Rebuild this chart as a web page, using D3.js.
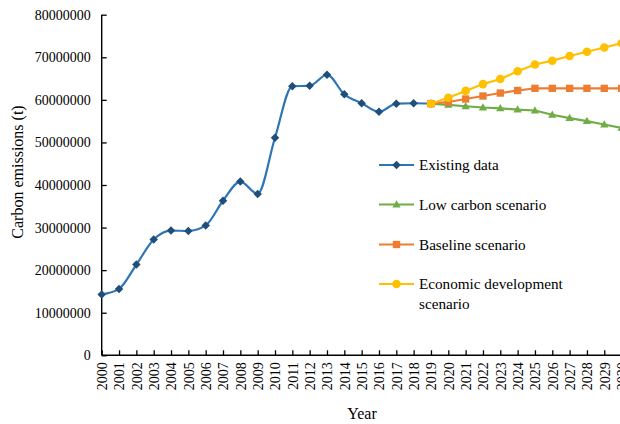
<!DOCTYPE html>
<html>
<head>
<meta charset="utf-8">
<script src="https://cdn.jsdelivr.net/npm/d3@7"></script>
<style>
  html, body { margin: 0; padding: 0; background: #fff; }
  svg { display: block; font-family: "Liberation Serif", "Times New Roman", serif; }
</style>
</head>
<body>
<svg id="chart" width="620" height="424"></svg>
<script>
// Carbon emissions: observed series 2000–2019 and three scenarios to 2030
const existingYears = d3.range(2000, 2020);
const existingValues = [
  14300000, 15600000, 21300000, 27200000, 29300000, 29200000, 30500000,
  36300000, 40800000, 37900000, 51100000, 63200000, 63300000, 65900000,
  61300000, 59200000, 57200000, 59100000, 59200000, 59100000
];

const scenarioYears = d3.range(2019, 2031);
const lowCarbonValues = [
  59100000, 58800000, 58500000, 58200000, 58000000, 57700000,
  57500000, 56500000, 55700000, 55000000, 54200000, 53400000
];
const baselineValues = [
  59100000, 59500000, 60200000, 60900000, 61600000, 62200000,
  62700000, 62700000, 62700000, 62700000, 62700000, 62700000
];
const economicValues = [
  59100000, 60500000, 62100000, 63700000, 64900000, 66700000,
  68300000, 69200000, 70300000, 71300000, 72300000, 73300000
];

const xTickYears = d3.range(2000, 2031);
const yTickValues = d3.range(0, 80000001, 10000000);

const seriesNames = ["Existing data", "Low carbon scenario", "Baseline scenario", "Economic development scenario"];

const svg = d3.select("#chart");

const x = d3.scaleLinear().domain([2000, 2030]).range([101.7, 621.6]);
const y = d3.scaleLinear().domain([0, 80000000]).range([355.3, 14.7]);

// Axes (ticks point into the plot, Excel style)
const yAxis = svg.append("g")
  .attr("transform", `translate(${x(2000)},0)`)
  .call(d3.axisLeft(y).tickValues(yTickValues).tickSize(-5).tickPadding(11).tickFormat(d => String(d)));
yAxis.selectAll("text").attr("font-size", 14).attr("fill", "#000").attr("font-family", "Liberation Serif");

const xAxis = svg.append("g")
  .attr("transform", `translate(0,${y(0)})`)
  .call(d3.axisBottom(x).tickValues(xTickYears).tickSize(-5).tickFormat(d => String(d)));
xAxis.selectAll("text")
  .attr("font-size", 14).attr("fill", "#000").attr("font-family", "Liberation Serif")
  .attr("transform", "rotate(-90)")
  .attr("x", -7).attr("y", 0).attr("dy", "0.35em")
  .style("text-anchor", "end");

[yAxis, xAxis].forEach(a => {
  a.select(".domain").attr("stroke", "#000").attr("stroke-width", 1.4);
  a.selectAll(".tick line").attr("stroke", "#000").attr("stroke-width", 1.3);
});
yAxis.select(".domain").attr("d", `M0,${y(80000000)}V${y(0)}`);
xAxis.select(".domain").attr("d", `M${x(2000)},0H620`);

// Axis titles
svg.append("text")
  .attr("x", 362).attr("y", 419)
  .attr("text-anchor", "middle").attr("font-size", 16).attr("fill", "#000")
  .text("Year");
svg.append("text")
  .attr("transform", "translate(23,172) rotate(-90)")
  .attr("text-anchor", "middle").attr("font-size", 16).attr("fill", "#000")
  .text("Carbon emissions (t)");

// Marker shapes
const diamond = d3.symbol().type(d3.symbolSquare).size(36);
const triangle = d3.symbol().type(d3.symbolTriangle).size(30);
const square = d3.symbol().type(d3.symbolSquare).size(54);
const circle = d3.symbol().type(d3.symbolCircle).size(58);

const series = [
  { name: seriesNames[0], years: existingYears, values: existingValues, line: "#2E75B6", mark: "#1F4E79",
    curve: d3.curveMonotoneX, shape: diamond, rot: 45, dy: 0 },
  { name: seriesNames[1], years: scenarioYears, values: lowCarbonValues, line: "#70AD47", mark: "#70AD47",
    curve: d3.curveLinear, shape: triangle, rot: 0, dy: 0.5 },
  { name: seriesNames[2], years: scenarioYears, values: baselineValues, line: "#ED7D31", mark: "#ED7D31",
    curve: d3.curveLinear, shape: square, rot: 0, dy: 0 },
  { name: seriesNames[3], years: scenarioYears, values: economicValues, line: "#FFC000", mark: "#FFC000",
    curve: d3.curveLinear, shape: circle, rot: 0, dy: 0 }
];

const plot = svg.append("g");
series.forEach(s => {
  const pts = s.years.map((yr, i) => [yr, s.values[i]]);
  const line = d3.line().x(d => x(d[0])).y(d => y(d[1])).curve(s.curve);
  plot.append("path")
    .attr("d", line(pts))
    .attr("fill", "none").attr("stroke", s.line).attr("stroke-width", 2.2)
    .attr("stroke-linejoin", "round");
  plot.selectAll(null).data(pts).enter().append("path")
    .attr("d", s.shape())
    .attr("transform", d => `translate(${x(d[0])},${y(d[1]) + s.dy}) rotate(${s.rot})`)
    .attr("fill", s.mark);
});

// Legend
const legendY = [165, 204.5, 244.5, 284];
const legend = svg.append("g");
series.forEach((s, i) => {
  const cy = legendY[i];
  legend.append("line")
    .attr("x1", 379).attr("x2", 414).attr("y1", cy).attr("y2", cy)
    .attr("stroke", s.line).attr("stroke-width", 2.2);
  legend.append("path")
    .attr("d", s.shape())
    .attr("transform", `translate(396.5,${cy + s.dy}) rotate(${s.rot})`)
    .attr("fill", s.mark);
  const t = legend.append("text")
    .attr("x", 419).attr("y", cy).attr("dy", "0.35em")
    .attr("font-size", 15.2).attr("fill", "#000");
  if (i === 3) {
    t.append("tspan").attr("x", 419).text("Economic development");
    t.append("tspan").attr("x", 419).attr("dy", "1.27em").text("scenario");
    t.attr("dy", null);
    t.select("tspan").attr("dy", "0.35em");
  } else {
    t.text(s.name);
  }
});
</script>
</body>
</html>
